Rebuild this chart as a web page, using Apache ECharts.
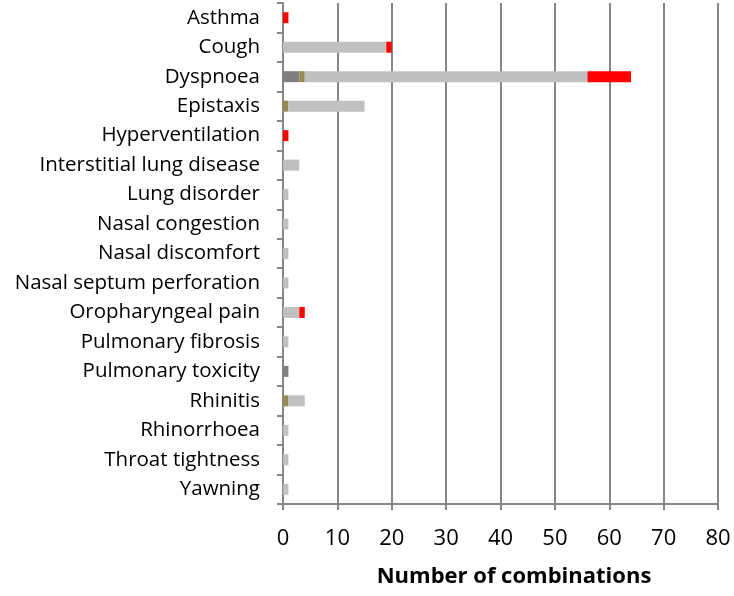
<!DOCTYPE html>
<html>
<head>
<meta charset="utf-8">
<script src="https://cdn.jsdelivr.net/npm/echarts@6/dist/echarts.min.js"></script>
<style>
	html, body { margin: 0; padding: 0; background: #fff; }
	#chart { width: 734px; height: 596px; }
</style>
</head>
<body>
<div id="chart"></div>
<script>
const categories = [
	"Asthma", "Cough", "Dyspnoea", "Epistaxis", "Hyperventilation",
	"Interstitial lung disease", "Lung disorder", "Nasal congestion",
	"Nasal discomfort", "Nasal septum perforation", "Oropharyngeal pain",
	"Pulmonary fibrosis", "Pulmonary toxicity", "Rhinitis", "Rhinorrhoea",
	"Throat tightness", "Yawning",
];
// stacked segments, left to right
const darkGray = [0, 0, 3, 0, 0, 0, 0, 0, 0, 0, 0, 0, 1, 0, 0, 0, 0];
const olive = [0, 0, 1, 1, 0, 0, 0, 0, 0, 0, 0, 0, 0, 1, 0, 0, 0];
const lightGray = [0, 19, 52, 14, 0, 3, 1, 1, 1, 1, 3, 1, 0, 3, 1, 1, 1];
const red = [1, 1, 8, 0, 1, 0, 0, 0, 0, 0, 1, 0, 0, 0, 0, 0, 0];
const xTicks = [0, 10, 20, 30, 40, 50, 60, 70, 80];

const font = "'Open Sans', sans-serif";
const axisGray = "#868686";

const segments = [
	{ name: "dark", data: darkGray, color: "#7f7f7f" },
	{ name: "olive", data: olive, color: "#948a54" },
	{ name: "light", data: lightGray, color: "#c0c0c0" },
	{ name: "red", data: red, color: "#ff0000" },
];

const option = {
	animation: false,
	grid: {
		left: 283,
		right: 16,
		top: 3,
		bottom: 92,
	},
	xAxis: {
		type: "value",
		min: xTicks[0],
		max: xTicks[xTicks.length - 1],
		interval: 10,
		name: "Number of combinations",
		nameLocation: "middle",
		nameGap: 62,
		nameTextStyle: {
			fontFamily: font,
			fontWeight: "bold",
			fontSize: 22,
			color: "#000",
			padding: [0, 0, 0, 27],
		},
		axisLine: { show: true, lineStyle: { color: axisGray, width: 2 } },
		axisTick: { show: true, length: 6, lineStyle: { color: axisGray, width: 2 } },
		axisLabel: {
			margin: 24,
			fontFamily: font,
			fontSize: 22,
			color: "#000",
		},
		splitLine: { show: true, lineStyle: { color: axisGray, width: 2 } },
	},
	yAxis: {
		type: "category",
		inverse: true,
		data: categories,
		axisLine: { show: true, lineStyle: { color: axisGray, width: 2 } },
		axisTick: { show: true, length: 6, lineStyle: { color: axisGray, width: 2 } },
		axisLabel: {
			interval: 0,
			margin: 23,
			fontFamily: font,
			fontSize: 20.5,
			color: "#000",
		},
	},
	series: segments.map((s) => ({
		name: s.name,
		type: "bar",
		stack: "total",
		barWidth: 11,
		itemStyle: { color: s.color },
		data: s.data.map((v) => (v === 0 ? null : v)),
	})),
};

const chart = echarts.init(document.getElementById("chart"));
chart.setOption(option);
</script>
</body>
</html>
